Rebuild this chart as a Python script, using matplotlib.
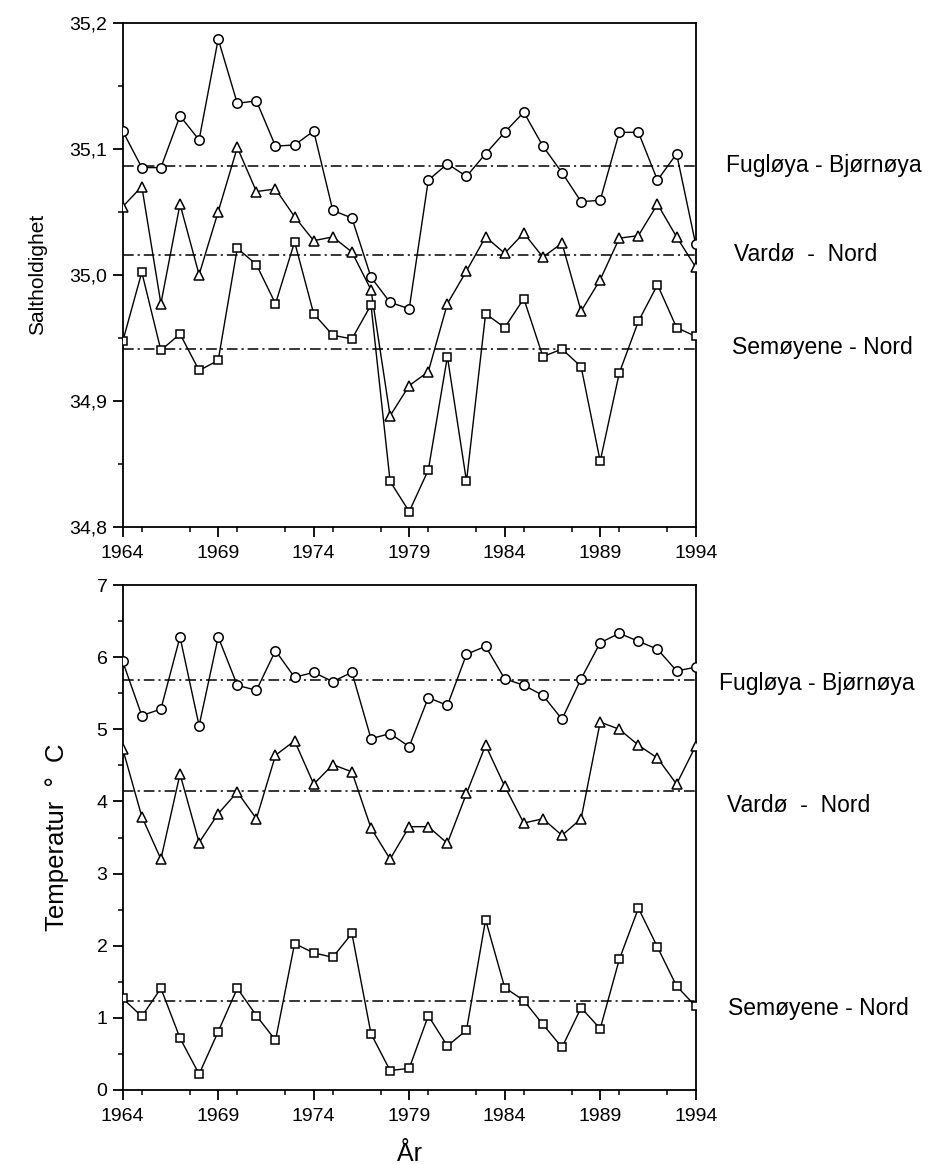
import matplotlib
matplotlib.use("Agg")
import matplotlib.pyplot as plt
from matplotlib.ticker import MultipleLocator, FuncFormatter

plt.rcParams['font.family'] = ['Liberation Sans', 'DejaVu Sans']

years = list(range(1964, 1995))

# Salinity (Saltholdighet)
sal_fugloya = [35.114, 35.085, 35.085, 35.126, 35.107, 35.187, 35.136, 35.138,
               35.102, 35.103, 35.114, 35.051, 35.045, 34.998, 34.978, 34.973,
               35.075, 35.088, 35.078, 35.096, 35.113, 35.129, 35.102, 35.081,
               35.058, 35.059, 35.113, 35.113, 35.075, 35.096, 35.024]
sal_vardo = [35.054, 35.070, 34.977, 35.056, 35.000, 35.050, 35.101, 35.066,
             35.068, 35.046, 35.027, 35.030, 35.018, 34.988, 34.888, 34.912,
             34.923, 34.977, 35.003, 35.030, 35.017, 35.033, 35.014, 35.025,
             34.971, 34.996, 35.029, 35.031, 35.056, 35.030, 35.006]
sal_semoyene = [34.947, 35.002, 34.940, 34.953, 34.924, 34.932, 35.021, 35.008,
                34.977, 35.026, 34.969, 34.952, 34.949, 34.976, 34.836, 34.812,
                34.845, 34.935, 34.836, 34.969, 34.958, 34.981, 34.935, 34.941,
                34.927, 34.852, 34.922, 34.963, 34.992, 34.958, 34.951]
sal_means = [35.086, 35.016, 34.941]

# Temperature (Temperatur)
tmp_fugloya = [5.94, 5.19, 5.28, 6.28, 5.05, 6.28, 5.61, 5.54, 6.09, 5.72,
               5.79, 5.66, 5.79, 4.87, 4.94, 4.76, 5.44, 5.33, 6.04, 6.15,
               5.70, 5.61, 5.47, 5.14, 5.70, 6.20, 6.33, 6.22, 6.11, 5.81, 5.86]
tmp_vardo = [4.73, 3.79, 3.20, 4.38, 3.43, 3.83, 4.13, 3.76, 4.64, 4.84,
             4.24, 4.51, 4.41, 3.63, 3.20, 3.65, 3.65, 3.42, 4.11, 4.78,
             4.21, 3.70, 3.76, 3.53, 3.76, 5.10, 5.00, 4.78, 4.60, 4.24, 4.77]
tmp_semoyene = [1.27, 1.02, 1.41, 0.72, 0.22, 0.81, 1.41, 1.03, 0.69, 2.03,
                1.90, 1.84, 2.17, 0.78, 0.27, 0.30, 1.03, 0.61, 0.83, 2.36,
                1.42, 1.24, 0.91, 0.59, 1.14, 0.85, 1.81, 2.52, 1.98, 1.44, 1.16]
tmp_means = [5.69, 4.15, 1.23]

station_names = ["Fugløya - Bjørnøya", "Vardø  -  Nord", "Semøyene - Nord"]
year_ticks = [1964, 1969, 1974, 1979, 1984, 1989, 1994]

W, H = 931, 1164
fig = plt.figure(figsize=(W / 100, H / 100), dpi=100)

left = 122.7 / W
width = (695.7 - 122.7) / W
ax1 = fig.add_axes([left, 1 - 526.7 / H, width, (526.7 - 22.7) / H])
ax2 = fig.add_axes([left, 1 - 1090 / H, width, (1090 - 585) / H])

markers = ['o', '^', 's']
msizes = [6.8, 6.6, 6.4]
dash = (0, (7, 2.6, 1.4, 2.6))


def draw(ax, series, means):
    for vals, m, ms in zip(series, markers, msizes):
        ax.plot(years, vals, color='black', lw=1.0, marker=m, ms=ms,
                mfc='white', mec='black', mew=1.1, zorder=3)
    for mv in means:
        ax.axhline(mv, color='black', lw=1.1, linestyle=dash, zorder=2)
    ax.set_xlim(1964, 1994)
    ax.set_xticks(year_ticks)
    ax.xaxis.set_minor_locator(MultipleLocator(2.5))
    for sp in ax.spines.values():
        sp.set_linewidth(1.3)
    ax.tick_params(axis='both', which='major', direction='out', length=7,
                   width=1.3, labelsize=14, pad=4)
    ax.tick_params(axis='both', which='minor', direction='out', length=3.5,
                   width=1.1)
    ax.tick_params(axis='x', which='major', pad=6)


draw(ax1, [sal_fugloya, sal_vardo, sal_semoyene], sal_means)
ax1.set_ylim(34.8, 35.2)
ax1.set_yticks([34.8, 34.9, 35.0, 35.1, 35.2])
ax1.yaxis.set_minor_locator(MultipleLocator(0.05))
ax1.yaxis.set_major_formatter(FuncFormatter(lambda v, p: f"{v:.1f}".replace('.', ',')))
ax1.set_ylabel("Saltholdighet", fontsize=15, labelpad=16)

draw(ax2, [tmp_fugloya, tmp_vardo, tmp_semoyene], tmp_means)
ax2.set_ylim(0, 7)
ax2.set_yticks(range(0, 8))
ax2.yaxis.set_minor_locator(MultipleLocator(0.5))
ax2.set_ylabel("Temperatur  °  C", fontsize=18.5, labelpad=20)
ax2.set_xlabel("År", fontsize=18, labelpad=12)

top_label_pos = [(1.053, 35.087), (1.066, 35.016), (1.063, 34.942)]
for name, (xp, yp) in zip(station_names, top_label_pos):
    ax1.annotate(name, xy=(xp, yp), xycoords=('axes fraction', 'data'),
                 fontsize=16.5, va='center', ha='left', annotation_clip=False)

bottom_label_pos = [(1.04, 5.64), (1.055, 3.95), (1.057, 1.13)]
for name, (xp, yp) in zip(station_names, bottom_label_pos):
    ax2.annotate(name, xy=(xp, yp), xycoords=('axes fraction', 'data'),
                 fontsize=16.5, va='center', ha='left', annotation_clip=False)

fig.savefig("out.png", dpi=100)
